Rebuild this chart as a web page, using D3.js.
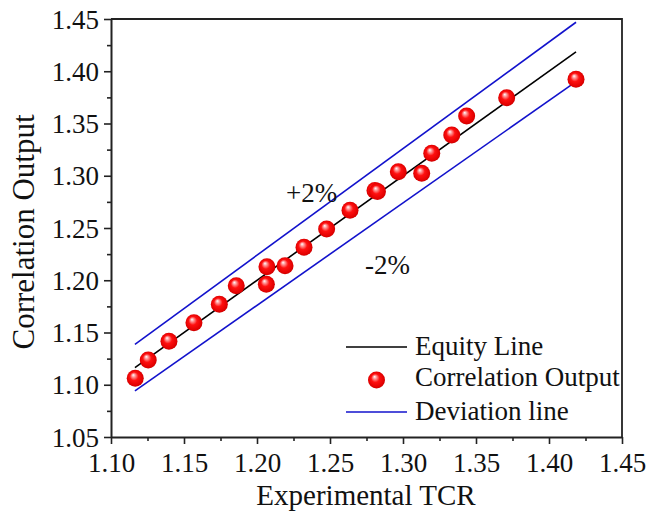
<!DOCTYPE html>
<html>
<head>
<meta charset="utf-8">
<script src="https://cdn.jsdelivr.net/npm/d3@7"></script>
<style>
  html, body { margin: 0; padding: 0; background: #fff; }
  svg { display: block; }
  text { font-family: "Liberation Serif", "Times New Roman", serif; fill: #111; }
</style>
</head>
<body>
<svg id="chart" width="646" height="515"></svg>
<script>
// Experimental TCR vs. correlation output
const experimental = [1.1166, 1.1255, 1.1397, 1.1568, 1.1742, 1.1858, 1.2064, 1.2068, 1.2192, 1.2322,
                      1.2477, 1.2637, 1.2808, 1.2825, 1.2968, 1.3128, 1.3197, 1.3334, 1.3436, 1.3710, 1.4185];
const correlation  = [1.1062, 1.1237, 1.1416, 1.1594, 1.1770, 1.1948, 1.1961, 1.2130, 1.2139, 1.2315,
                      1.2490, 1.2669, 1.2859, 1.2849, 1.3039, 1.3023, 1.3215, 1.3390, 1.3572, 1.3747, 1.3923];
// equity line and ±2 % deviation band, spanning the data range
const lineRange = [1.1164, 1.4185];
const deviation = [0.02, -0.02];
const xTicks = [1.10, 1.15, 1.20, 1.25, 1.30, 1.35, 1.40, 1.45];
const yTicks = [1.05, 1.10, 1.15, 1.20, 1.25, 1.30, 1.35, 1.40, 1.45];
const legendLabels = ["Equity Line", "Correlation Output", "Deviation line"];

const svg = d3.select("#chart");
const m = { left: 111, top: 19, right: 622, bottom: 437 };
const FS = 27;

const x = d3.scaleLinear().domain([1.10, 1.45]).range([m.left, m.right]);
const y = d3.scaleLinear().domain([1.05, 1.45]).range([m.bottom, m.top]);

// sphere-like marker fill
const defs = svg.append("defs");
const grad = defs.append("radialGradient").attr("id", "ball")
  .attr("cx", "50%").attr("cy", "50%").attr("r", "55%")
  .attr("fx", "38%").attr("fy", "30%");
grad.append("stop").attr("offset", "0%").attr("stop-color", "#ffffff");
grad.append("stop").attr("offset", "18%").attr("stop-color", "#ff9a9a");
grad.append("stop").attr("offset", "45%").attr("stop-color", "#ff1010");
grad.append("stop").attr("offset", "85%").attr("stop-color", "#e00000");
grad.append("stop").attr("offset", "100%").attr("stop-color", "#b00000");

// frame (top and right)
svg.append("path")
  .attr("d", `M${m.left},${m.top}H${m.right}V${m.bottom}`)
  .attr("fill", "none").attr("stroke", "#222").attr("stroke-width", 1.8);

// axes with outward ticks and one minor tick between majors
function minorTicks(dom) {
  const out = [];
  for (let v = dom[0] + 0.025; v < dom[1]; v += 0.05) out.push(+v.toFixed(3));
  return out;
}
const xAxis = svg.append("g").attr("transform", `translate(0,${m.bottom})`)
  .call(d3.axisBottom(x).tickValues(xTicks).tickFormat(d3.format(".2f")).tickSizeInner(7).tickSizeOuter(0));
svg.append("g").attr("transform", `translate(0,${m.bottom})`)
  .call(d3.axisBottom(x).tickValues(minorTicks(x.domain())).tickFormat("").tickSizeInner(4).tickSizeOuter(0))
  .select(".domain").remove();
const yAxis = svg.append("g").attr("transform", `translate(${m.left},0)`)
  .call(d3.axisLeft(y).tickValues(yTicks).tickFormat(d3.format(".2f")).tickSizeInner(7).tickSizeOuter(0));
svg.append("g").attr("transform", `translate(${m.left},0)`)
  .call(d3.axisLeft(y).tickValues(minorTicks(y.domain())).tickFormat("").tickSizeInner(4).tickSizeOuter(0))
  .select(".domain").remove();

svg.selectAll(".domain").attr("stroke", "#222").attr("stroke-width", 2);
svg.selectAll(".tick line").attr("stroke", "#222").attr("stroke-width", 1.6);
xAxis.selectAll(".tick text").attr("font-size", FS).attr("y", 35).attr("dy", 0)
  .style("font-family", "'Liberation Serif', serif").attr("fill", "#111");
yAxis.selectAll(".tick text").attr("font-size", FS).attr("x", -12).attr("dy", "0.34em")
  .style("font-family", "'Liberation Serif', serif").attr("fill", "#111");

// axis titles
svg.append("text").attr("x", 366).attr("y", 505)
  .attr("text-anchor", "middle").attr("font-size", 29).text("Experimental TCR");
svg.append("text").attr("transform", `translate(34,232) rotate(-90)`)
  .attr("text-anchor", "middle").attr("font-size", 31).text("Correlation Output");

// deviation lines
const line = d3.line().x(d => x(d[0])).y(d => y(d[1]));
deviation.forEach(dv => {
  svg.append("path")
    .datum(lineRange.map(v => [v, v * (1 + dv)]))
    .attr("d", line).attr("fill", "none").attr("stroke", "#1212cc").attr("stroke-width", 1.6);
});
// equity line
svg.append("path")
  .datum(lineRange.map(v => [v, v]))
  .attr("d", line).attr("fill", "none").attr("stroke", "#000").attr("stroke-width", 1.6);

// band labels
svg.append("text").attr("x", 286).attr("y", 202).attr("font-size", FS).text("+2%");
svg.append("text").attr("x", 365).attr("y", 274).attr("font-size", FS).text("-2%");

// data points
svg.append("g").selectAll("circle")
  .data(experimental.map((v, i) => [v, correlation[i]]))
  .join("circle")
  .attr("cx", d => x(d[0])).attr("cy", d => y(d[1])).attr("r", 8.5)
  .attr("fill", "url(#ball)");

// legend
const lg = svg.append("g");
const lx0 = 346, lx1 = 407, tx = 415;
const rows = [347, 380, 412];
const baselines = [355, 386, 420];
lg.append("line").attr("x1", lx0).attr("x2", lx1).attr("y1", rows[0]).attr("y2", rows[0])
  .attr("stroke", "#000").attr("stroke-width", 1.6);
lg.append("circle").attr("cx", (lx0 + lx1) / 2).attr("cy", rows[1]).attr("r", 8.5).attr("fill", "url(#ball)");
lg.append("line").attr("x1", lx0).attr("x2", lx1).attr("y1", rows[2]).attr("y2", rows[2])
  .attr("stroke", "#1212cc").attr("stroke-width", 1.6);
legendLabels.forEach((t, i) => {
  lg.append("text").attr("x", tx).attr("y", baselines[i]).attr("font-size", FS).text(t);
});
</script>
</body>
</html>
